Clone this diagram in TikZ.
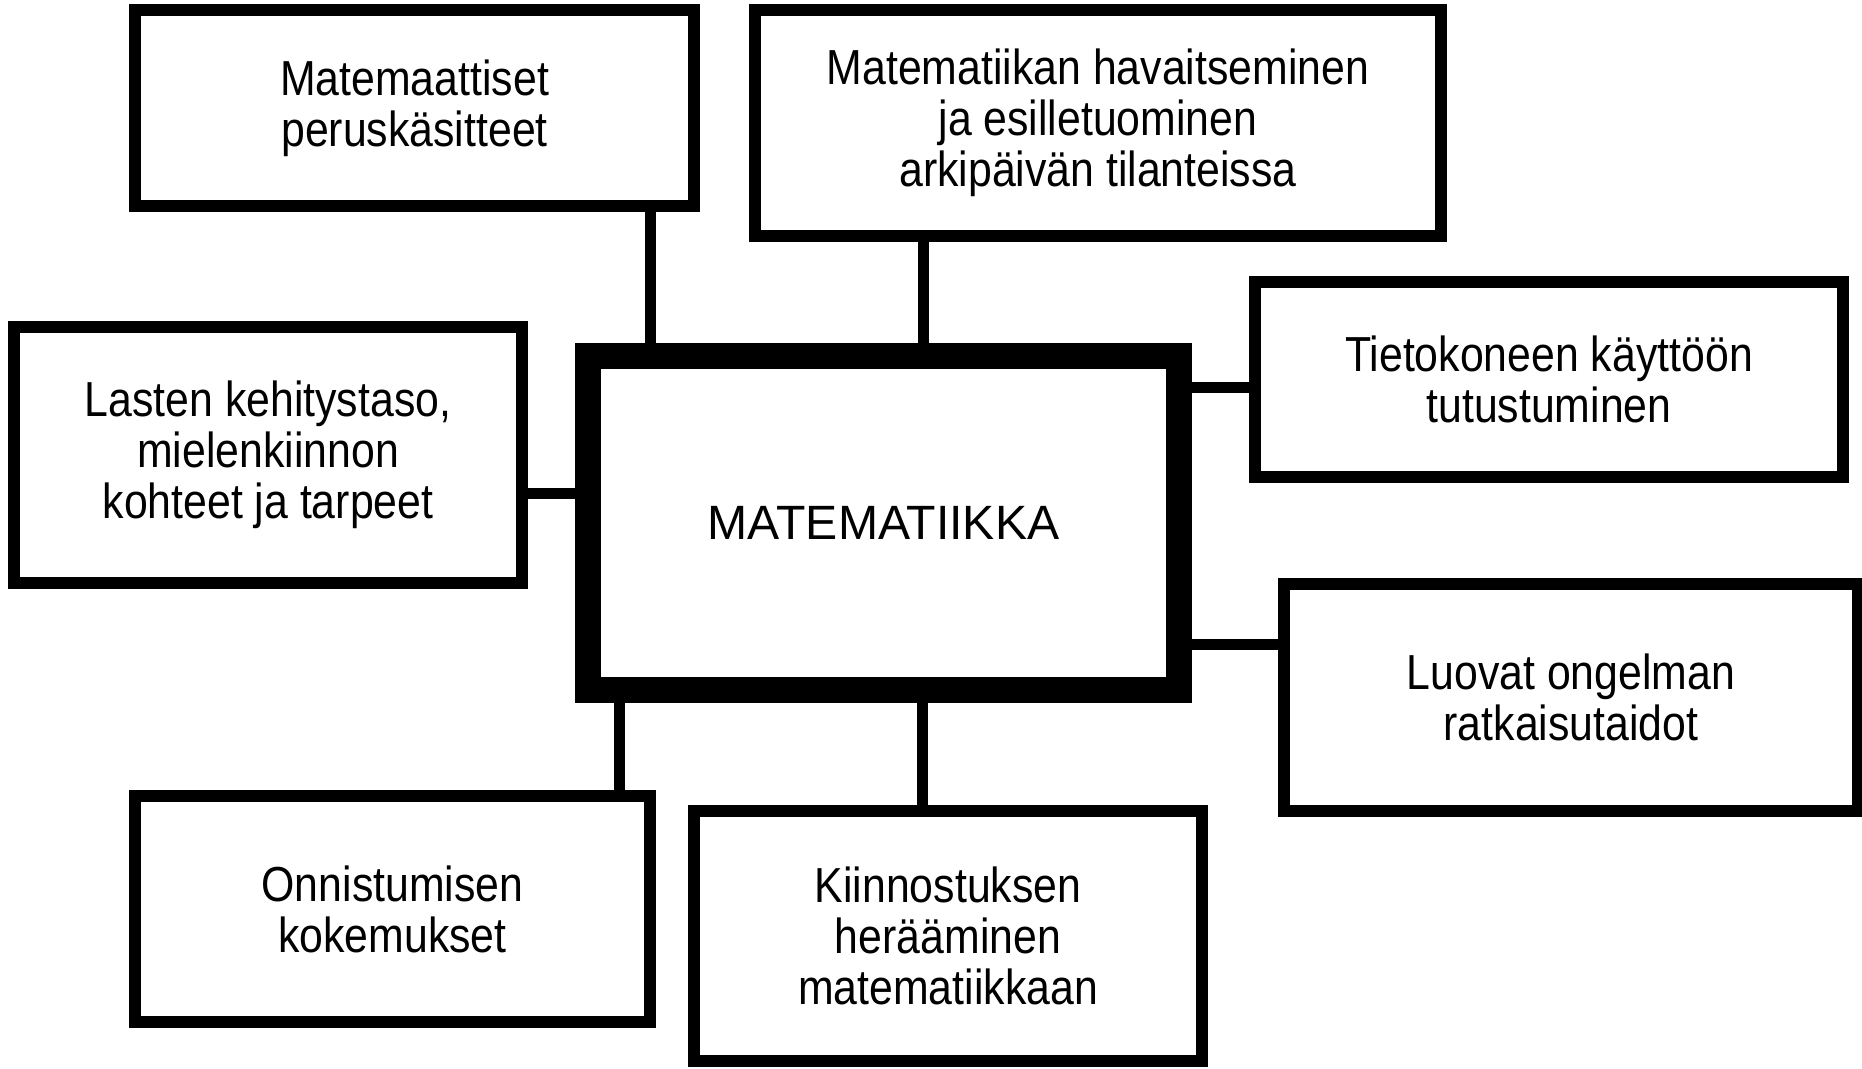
\documentclass[tikz,border=0pt]{standalone}
\usepackage{fontspec}
\setmainfont{Liberation Sans}
\newfontfamily\boxfont{Liberation Sans}[FakeStretch=0.87]
\usepackage{tikz}
\pgfdeclarelayer{background}
\pgfdeclarelayer{foreground}
\pgfsetlayers{background,main,foreground}

\begin{document}
\begin{tikzpicture}[
  topic/.style={draw, fill=white, line width=0.12cm, outer sep=0pt, align=center,
    font=\boxfont\fontsize{14pt}{14.5pt}\selectfont},
  link/.style={line width=0.11cm}]
\useasboundingbox (0,0) rectangle (18.62,10.68);
\begin{pgfonlayer}{foreground}
\node[draw, fill=white, line width=0.26cm, outer sep=0pt, minimum width=5.91cm, minimum height=3.34cm,
  font=\fontsize{13.7pt}{15pt}\selectfont] (mid) at (8.835,5.45) {MATEMATIIKKA};
\node[topic, minimum width=5.59cm, minimum height=1.96cm] (perus) at (4.145,9.60) {Matemaattiset\\peruskäsitteet};
\node[topic, minimum width=6.86cm, minimum height=2.26cm] (arki) at (10.98,9.45) {Matematiikan havaitseminen\\ja esilletuominen\\arkipäivän tilanteissa};
\node[topic, minimum width=5.88cm, minimum height=1.95cm] (tieto) at (15.49,6.885) {Tietokoneen käyttöön\\tutustuminen};
\node[topic, minimum width=5.08cm, minimum height=2.56cm] (lapset) at (2.68,6.13) {Lasten kehitystaso,\\mielenkiinnon\\kohteet ja tarpeet};
\node[topic, minimum width=5.74cm, minimum height=2.27cm] (luovat) at (15.71,3.705) {Luovat ongelman\\ratkaisutaidot};
\node[topic, minimum width=5.15cm, minimum height=2.26cm] (onni) at (3.925,1.59) {Onnistumisen\\kokemukset};
\node[topic, minimum width=5.08cm, minimum height=2.50cm] (kiinn) at (9.48,1.32) {Kiinnostuksen\\herääminen\\matematiikkaan};
\end{pgfonlayer}
\begin{pgfonlayer}{background}
\draw[link] (perus.south -| 6.50,0) -- (mid.north -| 6.50,0);
\draw[link] (arki.south -| 9.23,0) -- (mid.north -| 9.23,0);
\draw[link] (lapset.east |- 0,5.74) -- (mid.west |- 0,5.74);
\draw[link] (mid.east |- 0,6.80) -- (tieto.west |- 0,6.80);
\draw[link] (mid.east |- 0,4.23) -- (luovat.west |- 0,4.23);
\draw[link] (mid.south -| 6.19,0) -- (onni.north -| 6.19,0);
\draw[link] (mid.south -| 9.22,0) -- (kiinn.north -| 9.22,0);
\end{pgfonlayer}
\end{tikzpicture}
\end{document}
